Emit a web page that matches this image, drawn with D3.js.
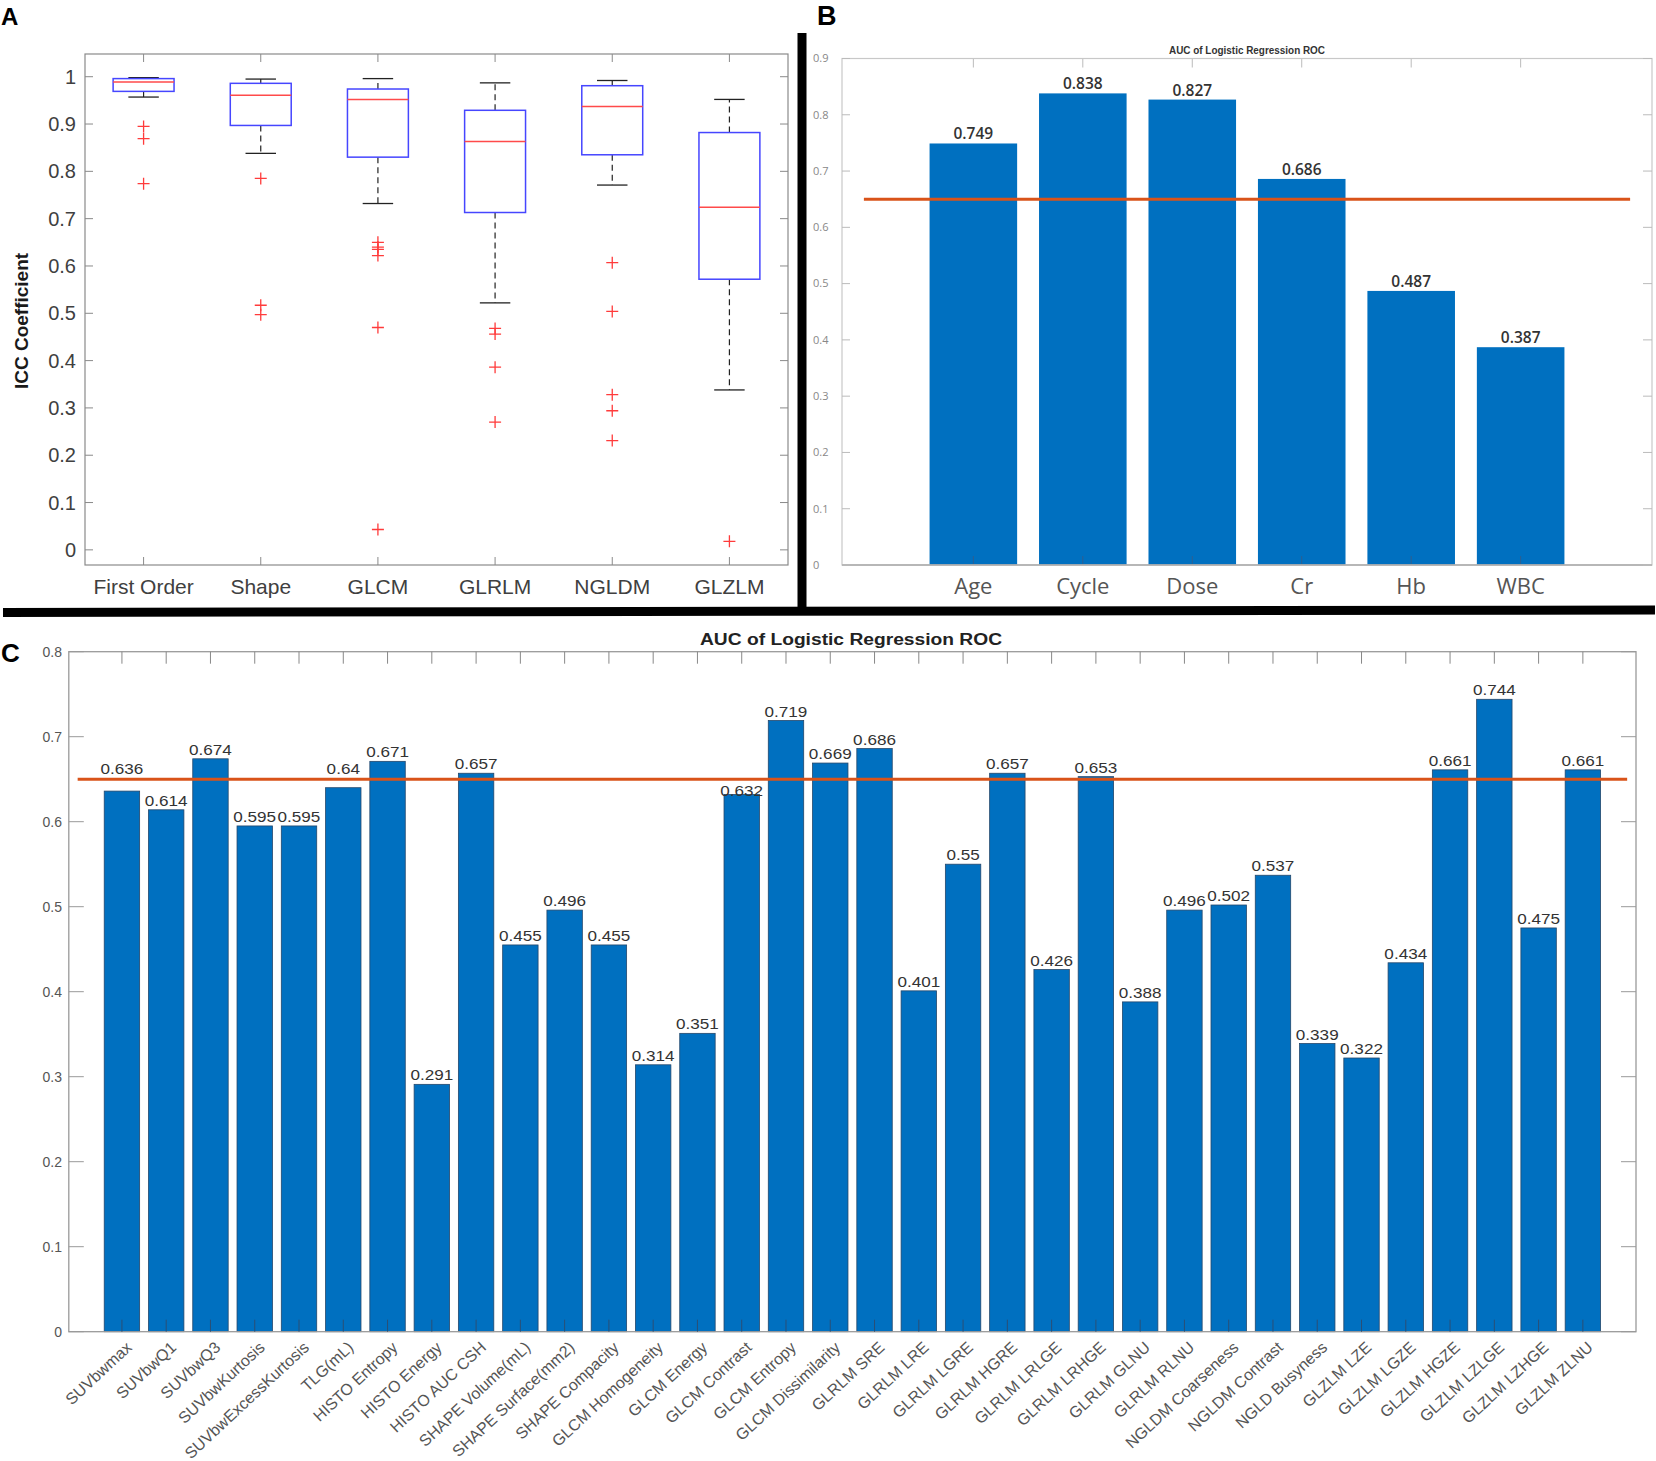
<!DOCTYPE html>
<html><head><meta charset="utf-8">
<script src="https://cdn.jsdelivr.net/npm/d3@7"></script>
<style>body{margin:0;background:#fff}svg{display:block}</style>
</head><body>
<script>
// ---------- Panel A data (box plots of ICC) ----------
const groupsA = ["First Order","Shape","GLCM","GLRLM","NGLDM","GLZLM"];
const whiskerHighA = [0.998,0.995,0.996,0.987,0.992,0.952];
const q3A          = [0.996,0.986,0.974,0.929,0.981,0.882];
const medianA      = [0.989,0.961,0.952,0.863,0.937,0.724];
const q1A          = [0.969,0.897,0.830,0.713,0.835,0.572];
const whiskerLowA  = [0.957,0.838,0.732,0.522,0.771,0.338];
const outliersA = [
  [0.895,0.869,0.774],
  [0.785,0.517,0.497],
  [0.650,0.640,0.635,0.622,0.470,0.043],
  [0.468,0.456,0.386,0.270],
  [0.607,0.504,0.328,0.294,0.231],
  [0.018]
];
const yTicksA = [0,0.1,0.2,0.3,0.4,0.5,0.6,0.7,0.8,0.9,1];
const yTickLabelsA = ["0","0.1","0.2","0.3","0.4","0.5","0.6","0.7","0.8","0.9","1"];

// ---------- Panel B data ----------
const categoriesB = ["Age","Cycle","Dose","Cr","Hb","WBC"];
const aucB = [0.749,0.838,0.827,0.686,0.487,0.387];
const yTicksB = [0,0.1,0.2,0.3,0.4,0.5,0.6,0.7,0.8,0.9];
const yTickLabelsB = ["0","0.1","0.2","0.3","0.4","0.5","0.6","0.7","0.8","0.9"];
const thresholdB = 0.65;

// ---------- Panel C data ----------
const featuresC = ["SUVbwmax","SUVbwQ1","SUVbwQ3","SUVbwKurtosis","SUVbwExcessKurtosis","TLG(mL)",
  "HISTO Entropy","HISTO Energy","HISTO AUC CSH","SHAPE Volume(mL)","SHAPE Surface(mm2)","SHAPE Compacity",
  "GLCM Homogeneity","GLCM Energy","GLCM Contrast","GLCM Entropy","GLCM Dissimilarity","GLRLM SRE",
  "GLRLM LRE","GLRLM LGRE","GLRLM HGRE","GLRLM LRLGE","GLRLM LRHGE","GLRLM GLNU","GLRLM RLNU",
  "NGLDM Coarseness","NGLDM Contrast","NGLD Busyness","GLZLM LZE","GLZLM LGZE","GLZLM HGZE",
  "GLZLM LZLGE","GLZLM LZHGE","GLZLM ZLNU"];
const aucC = [0.636,0.614,0.674,0.595,0.595,0.64,0.671,0.291,0.657,0.455,0.496,0.455,0.314,0.351,
  0.632,0.719,0.669,0.686,0.401,0.55,0.657,0.426,0.653,0.388,0.496,0.502,0.537,0.339,0.322,0.434,
  0.661,0.744,0.475,0.661];
const yTicksC = [0,0.1,0.2,0.3,0.4,0.5,0.6,0.7,0.8];
const yTickLabelsC = ["0","0.1","0.2","0.3","0.4","0.5","0.6","0.7","0.8"];
const thresholdC = 0.65;
const titleText = "AUC of Logistic Regression ROC";

const W = 1656, H = 1461;
const svg = d3.select("body").append("svg").attr("width", W).attr("height", H);
svg.append("rect").attr("width", W).attr("height", H).attr("fill", "#fff");

const barBlue = "#0070C0", orange = "#D95319";

// ================= Panel A =================
{
  const L = 85, R = 788, T = 54, B = 565;
  const x = d3.scaleLinear().domain([0.5, groupsA.length + 0.5]).range([L, R]);
  const y = d3.scaleLinear().domain([-0.032, 1.048]).range([B, T]);
  const g = svg.append("g");
  g.append("rect").attr("x", L).attr("y", T).attr("width", R - L).attr("height", B - T)
    .attr("fill", "none").attr("stroke", "#8a8a8a").attr("stroke-width", 1.2);
  yTicksA.forEach((t, i) => {
    g.append("line").attr("x1", L).attr("x2", L + 8).attr("y1", y(t)).attr("y2", y(t)).attr("stroke", "#8a8a8a");
    g.append("line").attr("x1", R).attr("x2", R - 8).attr("y1", y(t)).attr("y2", y(t)).attr("stroke", "#8a8a8a");
    g.append("text").attr("x", L - 9).attr("y", y(t)).attr("dy", "0.35em").attr("text-anchor", "end")
      .attr("font-family", "Liberation Sans, Arial, sans-serif").attr("font-size", 20).attr("fill", "#404040")
      .text(yTickLabelsA[i]);
  });
  groupsA.forEach((name, i) => {
    const cx = x(i + 1);
    g.append("line").attr("x1", cx).attr("x2", cx).attr("y1", T).attr("y2", T + 8).attr("stroke", "#8a8a8a");
    g.append("line").attr("x1", cx).attr("x2", cx).attr("y1", B).attr("y2", B - 8).attr("stroke", "#8a8a8a");
    g.append("text").attr("x", cx).attr("y", 594).attr("text-anchor", "middle")
      .attr("font-family", "Liberation Sans, Arial, sans-serif").attr("font-size", 21).attr("fill", "#404040")
      .text(name);
    const hw = 0.26, cw = 0.13;
    g.append("line").attr("x1", cx).attr("x2", cx).attr("y1", y(q3A[i])).attr("y2", y(whiskerHighA[i]))
      .attr("stroke", "#222").attr("stroke-dasharray", "6,4").attr("stroke-width", 1.2);
    g.append("line").attr("x1", cx).attr("x2", cx).attr("y1", y(q1A[i])).attr("y2", y(whiskerLowA[i]))
      .attr("stroke", "#222").attr("stroke-dasharray", "6,4").attr("stroke-width", 1.2);
    [whiskerHighA[i], whiskerLowA[i]].forEach(v => {
      g.append("line").attr("x1", x(i + 1 - cw)).attr("x2", x(i + 1 + cw)).attr("y1", y(v)).attr("y2", y(v))
        .attr("stroke", "#222").attr("stroke-width", 1.3);
    });
    g.append("rect").attr("x", x(i + 1 - hw)).attr("width", x(i + 1 + hw) - x(i + 1 - hw))
      .attr("y", y(q3A[i])).attr("height", y(q1A[i]) - y(q3A[i]))
      .attr("fill", "none").attr("stroke", "#4646ff").attr("stroke-width", 1.5);
    g.append("line").attr("x1", x(i + 1 - hw)).attr("x2", x(i + 1 + hw)).attr("y1", y(medianA[i])).attr("y2", y(medianA[i]))
      .attr("stroke", "#ff4a4a").attr("stroke-width", 1.5);
    outliersA[i].forEach(v => {
      const py = y(v);
      g.append("path").attr("d", `M${cx - 6},${py}H${cx + 6}M${cx},${py - 6}V${py + 6}`)
        .attr("stroke", "#ff3b3b").attr("stroke-width", 1.3).attr("fill", "none");
    });
  });
  g.append("text").attr("transform", "translate(28,321) rotate(-90)").attr("text-anchor", "middle")
    .attr("font-family", "Liberation Sans, Arial, sans-serif").attr("font-weight", "bold")
    .attr("font-size", 19).attr("fill", "#1a1a1a").text("ICC Coefficient");
}

// ================= Panel B =================
{
  const L = 842, R = 1652, T = 58.5, B = 565;
  const x = d3.scaleLinear().domain([-0.2, categoriesB.length + 1.2]).range([L, R]);
  const y = d3.scaleLinear().domain([0, 0.9]).range([B, T]);
  const g = svg.append("g");
  const font = "Segoe UI, Open Sans, Noto Sans, sans-serif";
  categoriesB.forEach((c, i) => {
    g.append("rect").attr("x", x(i + 1 - 0.4)).attr("width", x(i + 1.4) - x(i + 0.6))
      .attr("y", y(aucB[i])).attr("height", y(0) - y(aucB[i])).attr("fill", barBlue);
    g.append("text").attr("x", x(i + 1)).attr("y", y(aucB[i]) - 4).attr("text-anchor", "middle")
      .attr("font-family", font).attr("font-weight", 600).attr("font-size", 15.5).attr("fill", "#333")
      .text(aucB[i].toFixed(3));
    g.append("text").attr("x", x(i + 1)).attr("y", 594).attr("text-anchor", "middle")
      .attr("font-family", font).attr("font-size", 22).attr("fill", "#555").text(c);
    g.append("line").attr("x1", x(i + 1)).attr("x2", x(i + 1)).attr("y1", T).attr("y2", T + 9).attr("stroke", "#bbb");
    g.append("line").attr("x1", x(i + 1)).attr("x2", x(i + 1)).attr("y1", B).attr("y2", B - 9).attr("stroke", "#2f5f8f");
  });
  g.append("rect").attr("x", L).attr("y", T).attr("width", R - L).attr("height", B - T)
    .attr("fill", "none").attr("stroke", "#c8c8c8").attr("stroke-width", 1.2);
  g.append("line").attr("x1", L).attr("x2", R).attr("y1", B).attr("y2", B).attr("stroke", "#aaa").attr("stroke-width", 1.5);
  yTicksB.forEach((t, i) => {
    g.append("line").attr("x1", L).attr("x2", L + 8).attr("y1", y(t)).attr("y2", y(t)).attr("stroke", "#bbb");
    g.append("line").attr("x1", R).attr("x2", R - 9).attr("y1", y(t)).attr("y2", y(t)).attr("stroke", "#bbb");
    g.append("text").attr("x", 813).attr("y", y(t)).attr("dy", "0.35em").attr("text-anchor", "start")
      .attr("font-family", font).attr("font-size", 11).attr("fill", "#888").text(yTickLabelsB[i]);
  });
  g.append("line").attr("x1", x(0)).attr("x2", x(categoriesB.length + 1))
    .attr("y1", y(thresholdB)).attr("y2", y(thresholdB)).attr("stroke", orange).attr("stroke-width", 3);
  g.append("text").attr("x", (L + R) / 2).attr("y", 54).attr("text-anchor", "middle")
    .attr("font-family", "Liberation Sans, Arial, sans-serif").attr("font-weight", "bold").attr("font-size", 11)
    .attr("fill", "#333").attr("textLength", 156).attr("lengthAdjust", "spacingAndGlyphs").text(titleText);
}

// ================= Panel C =================
{
  const L = 68.8, R = 1636, T = 651.7, B = 1331.7;
  const x = d3.scaleLinear().domain([-0.2, featuresC.length + 1.2]).range([L, R]);
  const y = d3.scaleLinear().domain([0, 0.8]).range([B, T]);
  const g = svg.append("g");
  const font = "Liberation Sans, Arial, sans-serif";
  const lineY = y(thresholdC);
  featuresC.forEach((f, i) => {
    g.append("rect").attr("x", x(i + 0.6)).attr("width", x(i + 1.4) - x(i + 0.6))
      .attr("y", y(aucC[i])).attr("height", y(0) - y(aucC[i]))
      .attr("fill", barBlue).attr("stroke", "#24476b").attr("stroke-width", 0.8);
  });
  g.append("rect").attr("x", L).attr("y", T).attr("width", R - L).attr("height", B - T)
    .attr("fill", "none").attr("stroke", "#9a9a9a").attr("stroke-width", 1.3);
  featuresC.forEach((f, i) => {
    const cx = x(i + 1);
    g.append("line").attr("x1", cx).attr("x2", cx).attr("y1", T).attr("y2", T + 12).attr("stroke", "#888");
    g.append("line").attr("x1", cx).attr("x2", cx).attr("y1", B).attr("y2", B - 12).attr("stroke", "#2a4f75");
    g.append("text").attr("transform", `translate(${cx + 11},${B + 17}) rotate(-43)`).attr("text-anchor", "end")
      .attr("font-family", font).attr("font-size", 16).attr("fill", "#555").text(f);
  });
  yTicksC.forEach((t, i) => {
    g.append("line").attr("x1", L).attr("x2", L + 15).attr("y1", y(t)).attr("y2", y(t)).attr("stroke", "#999");
    g.append("line").attr("x1", R).attr("x2", R - 15).attr("y1", y(t)).attr("y2", y(t)).attr("stroke", "#999");
    g.append("text").attr("x", 62).attr("y", y(t)).attr("dy", "0.35em").attr("text-anchor", "end")
      .attr("font-family", font).attr("font-size", 14).attr("fill", "#555").text(yTickLabelsC[i]);
  });
  g.append("line").attr("x1", x(0)).attr("x2", x(featuresC.length + 1))
    .attr("y1", lineY).attr("y2", lineY).attr("stroke", orange).attr("stroke-width", 3);
  // value labels, nudged off the threshold line when they would cross it
  featuresC.forEach((f, i) => {
    const top = y(aucC[i]);
    let base = top - 4;
    const capH = 11;
    if (base > lineY - 3 && base - capH < lineY + 3) {
      base = aucC[i] >= 0.635 ? lineY - 5 : top + 1;
    }
    const t = g.append("text").attr("x", x(i + 1)).attr("y", base).attr("text-anchor", "middle")
      .attr("font-family", font).attr("font-size", 15).attr("fill", "#333")
      .text(String(aucC[i]));
    const len = t.node().getComputedTextLength();
    t.attr("textLength", len * 1.14).attr("lengthAdjust", "spacingAndGlyphs");
  });
  g.append("text").attr("x", 851).attr("y", 645).attr("text-anchor", "middle")
    .attr("font-family", font).attr("font-weight", "bold").attr("font-size", 16).attr("fill", "#222")
    .attr("textLength", 302).attr("lengthAdjust", "spacingAndGlyphs").text(titleText);
}

// ================= Panel separators and letters =================
svg.append("line").attr("x1", 802).attr("x2", 802).attr("y1", 33).attr("y2", 612)
  .attr("stroke", "#000").attr("stroke-width", 9);
svg.append("line").attr("x1", 3).attr("x2", 1655).attr("y1", 612.5).attr("y2", 610)
  .attr("stroke", "#000").attr("stroke-width", 9);
const letterFont = "Liberation Sans, Arial, sans-serif";
svg.append("text").attr("x", 1).attr("y", 25).attr("font-family", letterFont).attr("font-weight", "bold")
  .attr("font-size", 24).attr("fill", "#000").text("A");
svg.append("text").attr("x", 817).attr("y", 25).attr("font-family", letterFont).attr("font-weight", "bold")
  .attr("font-size", 27).attr("fill", "#000").text("B");
svg.append("text").attr("x", 1).attr("y", 662).attr("font-family", letterFont).attr("font-weight", "bold")
  .attr("font-size", 26).attr("fill", "#000").text("C");
</script>
</body></html>
